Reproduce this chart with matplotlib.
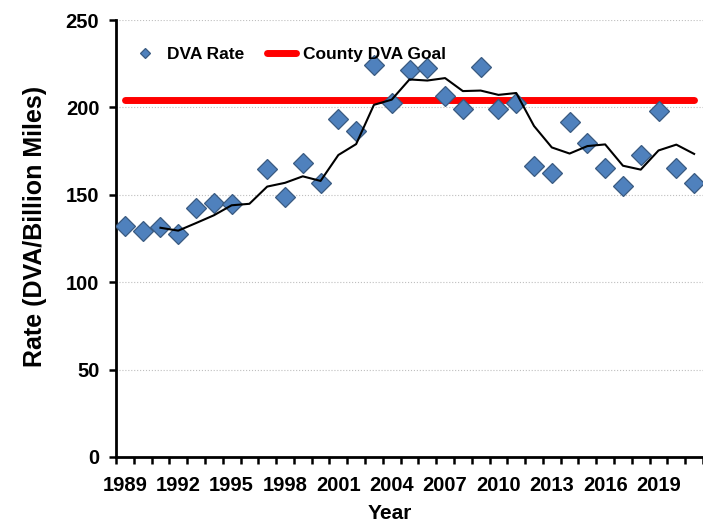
import numpy as np
import pandas as pd
import matplotlib
matplotlib.use("Agg")
import matplotlib.pyplot as plt

plt.rcParams['font.family'] = ['Liberation Sans', 'DejaVu Sans']
plt.rcParams['font.weight'] = 'bold'

# DVA rate per year (1996 has no point in the chart)
years = list(range(1989, 2022))
rate = [132.3, 129.3, 131.8, 127.4, 142.3, 145.1, 144.6, np.nan, 164.8, 148.9,
        168.0, 156.9, 193.4, 186.7, 224.3, 202.3, 221.4, 222.4, 206.5, 199.1,
        223.3, 199.1, 202.3, 166.7, 162.3, 191.8, 179.5, 165.2, 155.2, 172.8,
        198.1, 165.2, 156.9]
goal = 204.2
tick_years = list(range(1989, 2022, 3))
y_ticks = [0, 50, 100, 150, 200, 250]

s = pd.Series(rate, index=years)
# 3 year moving average trendline (starts at 3rd year)
ma = s.rolling(3, min_periods=2).mean()
ma[ma.index < years[0] + 2] = np.nan

fig = plt.figure(figsize=(7.03, 5.24), dpi=100)
ax = fig.add_axes([116 / 703, 67 / 524, 587 / 703, 437 / 524])

ax.plot([years[0], years[-1]], [goal, goal], color='#FF0000', lw=5,
        solid_capstyle='round', zorder=2, label='County DVA Goal')
ax.plot(s.index, s.values, linestyle='none', marker='D', ms=10.3,
        mfc='#4F81BD', mec='#3A5A80', mew=0.9, zorder=3, label='DVA Rate')
ax.plot(ma.index, ma.values, color='black', lw=1.5, zorder=4)

ax.set_xlim(years[0] - 0.5, years[-1] + 0.5)
ax.set_ylim(0, 250)
ax.set_yticks(y_ticks)
ax.set_xticks(tick_years)
ax.set_xticks(np.arange(years[0] - 0.5, years[-1] + 1), minor=True)
ax.tick_params(axis='x', which='major', length=0, pad=14, labelsize=14.5)
ax.tick_params(axis='x', which='minor', length=5, width=1.8, direction='out')
ax.tick_params(axis='y', length=5, width=1.8, direction='out', pad=7, labelsize=14.5)

ax.grid(axis='y', linestyle=':', color='#BFBFBF', lw=0.8)
ax.set_axisbelow(True)
for side in ['top', 'right']:
    ax.spines[side].set_visible(False)
for side in ['left', 'bottom']:
    ax.spines[side].set_linewidth(2)

ax.set_xlabel('Year', fontsize=15, fontweight='bold')
ax.xaxis.set_label_coords(0.467, -0.13)
ax.xaxis.label.set_verticalalignment('center')
ax.set_ylabel('Rate (DVA/Billion Miles)', fontsize=18, fontweight='bold')
ax.yaxis.set_label_coords(-0.138, 0.528)
ax.yaxis.label.set_verticalalignment('center')

h, l = ax.get_legend_handles_labels()
ax.legend([h[1], h[0]], [l[1], l[0]], loc='upper left', bbox_to_anchor=(-0.002, 0.975),
          ncol=2, frameon=False, fontsize=12.5, markerscale=0.5, handlelength=1.7,
          handletextpad=0.4, columnspacing=1.3)

fig.savefig('out.png', dpi=100)
